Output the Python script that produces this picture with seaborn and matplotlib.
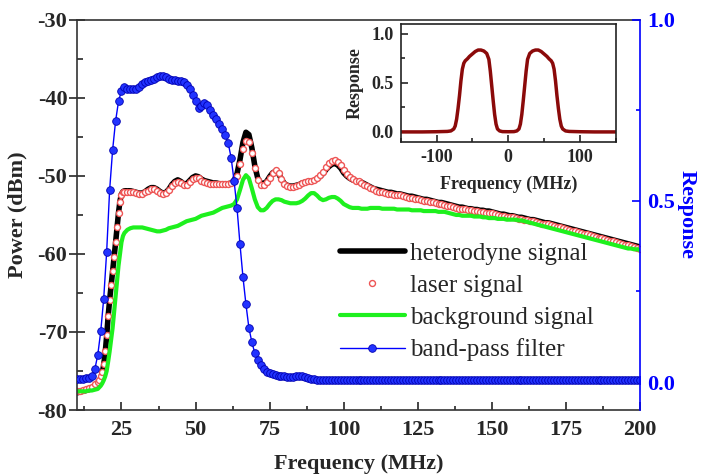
import numpy as np
import pandas as pd
import matplotlib
matplotlib.use('Agg')
import matplotlib.pyplot as plt
import seaborn as sns
from matplotlib.ticker import MultipleLocator

# frequency grid of the power traces (finer on the rising edge)
freq_power = np.concatenate([np.arange(10, 17), np.arange(17, 26.5, 0.5), np.arange(27, 201)])

heterodyne = [
    -77.8, -77.7, -77.6, -77.5, -77.4, -77.2, -76.9,
    -76.6, -76.3, -75.9, -75.3, -74.2, -72.7, -70.5, -68.0, -65.9, -64.1,
    -62.3, -60.5, -58.6, -56.6, -54.7, -53.2, -52.3, -52.0, -51.9,
    -51.9, -51.9, -52.0, -52.1, -52.2, -52.2, -52.0, -51.7, -51.5, -51.5,
    -51.7, -52.0, -52.2, -52.1, -51.7, -51.1, -50.7, -50.5, -50.7, -51.0,
    -51.0, -50.6, -50.2, -50.0, -50.1, -50.4, -50.6, -50.7, -50.8, -50.9,
    -50.9, -51.0, -51.0, -51.0, -51.0, -50.9, -50.6, -49.7, -47.9, -45.7,
    -44.4, -44.7, -46.4, -48.7, -50.3, -50.9, -51.0, -50.7, -50.1, -49.6,
    -49.4, -49.7, -50.4, -51.0, -51.2, -51.3, -51.3, -51.2, -51.1, -50.9,
    -50.8, -50.7, -50.7, -50.6, -50.4, -50.1, -49.7, -49.2, -48.8, -48.5,
    -48.4, -48.6, -49.0, -49.6, -50.0, -50.3, -50.5, -50.6, -50.7, -50.8,
    -51.0, -51.2, -51.4, -51.6, -51.7, -51.8, -51.9, -52.0, -52.1, -52.1,
    -52.2, -52.3, -52.3, -52.4, -52.5, -52.6, -52.6, -52.7, -52.8, -52.9,
    -53.0, -53.0, -53.1, -53.2, -53.3, -53.4, -53.4, -53.5, -53.6, -53.7,
    -53.8, -53.9, -54.0, -54.0, -54.1, -54.2, -54.2, -54.3, -54.3, -54.4,
    -54.4, -54.5, -54.5, -54.6, -54.7, -54.8, -54.9, -54.9, -55.0, -55.1,
    -55.1, -55.2, -55.3, -55.3, -55.4, -55.5, -55.6, -55.6, -55.7, -55.8,
    -55.9, -56.0, -56.0, -56.1, -56.2, -56.3, -56.4, -56.5, -56.6, -56.7,
    -56.8, -56.9, -57.0, -57.1, -57.2, -57.3, -57.4, -57.5, -57.6, -57.7,
    -57.8, -57.9, -58.0, -58.1, -58.2, -58.3, -58.4, -58.5, -58.6, -58.7,
    -58.8, -58.9, -59.0, -59.1,
]

laser = [
    -77.6, -77.5, -77.4, -77.3, -77.2, -77.0, -76.7,
    -76.4, -76.1, -75.7, -75.1, -74.1, -72.5, -70.4, -68.0, -65.9, -64.0,
    -62.2, -60.4, -58.5, -56.6, -54.8, -53.4, -52.5, -52.1, -52.0,
    -52.0, -52.0, -52.1, -52.2, -52.3, -52.3, -52.1, -51.9, -51.7, -51.7,
    -51.9, -52.2, -52.3, -52.2, -51.8, -51.3, -50.9, -50.8, -50.9, -51.2,
    -51.2, -50.8, -50.4, -50.2, -50.3, -50.6, -50.8, -50.9, -51.0, -51.0,
    -51.0, -51.0, -51.0, -51.0, -51.0, -50.9, -50.7, -50.0, -48.5, -46.6,
    -45.5, -45.6, -47.0, -49.0, -50.5, -51.1, -51.1, -50.8, -50.2, -49.6,
    -49.3, -49.6, -50.4, -51.0, -51.3, -51.4, -51.4, -51.3, -51.1, -50.9,
    -50.8, -50.7, -50.6, -50.5, -50.3, -49.9, -49.5, -48.9, -48.4, -48.1,
    -48.0, -48.2, -48.6, -49.2, -49.7, -50.1, -50.4, -50.6, -50.7, -50.9,
    -51.1, -51.3, -51.5, -51.7, -51.9, -52.0, -52.1, -52.2, -52.3, -52.3,
    -52.4, -52.5, -52.5, -52.6, -52.7, -52.8, -52.8, -52.9, -53.0, -53.1,
    -53.2, -53.2, -53.3, -53.4, -53.5, -53.6, -53.6, -53.7, -53.8, -53.9,
    -54.0, -54.1, -54.2, -54.2, -54.3, -54.4, -54.4, -54.5, -54.5, -54.6,
    -54.6, -54.7, -54.7, -54.8, -54.9, -55.0, -55.1, -55.1, -55.2, -55.3,
    -55.3, -55.4, -55.5, -55.5, -55.6, -55.7, -55.8, -55.8, -55.9, -56.0,
    -56.1, -56.2, -56.2, -56.3, -56.4, -56.5, -56.6, -56.7, -56.8, -56.9,
    -57.0, -57.1, -57.2, -57.3, -57.4, -57.5, -57.6, -57.7, -57.8, -57.9,
    -58.0, -58.1, -58.2, -58.3, -58.4, -58.5, -58.6, -58.7, -58.8, -58.9,
    -59.0, -59.1, -59.2, -59.3,
]

background = [
    -77.6, -77.6, -77.6, -77.6, -77.5, -77.5, -77.4,
    -77.3, -77.1, -76.9, -76.6, -76.2, -75.7, -75.0, -73.8, -72.5, -71.0,
    -69.5, -67.5, -65.5, -63.5, -61.5, -60.0, -58.5, -57.7, -57.3,
    -56.9, -56.7, -56.6, -56.6, -56.6, -56.6, -56.7, -56.8, -56.9, -57.0,
    -57.1, -57.1, -57.0, -56.9, -56.7, -56.6, -56.5, -56.4, -56.2, -56.0,
    -55.8, -55.7, -55.6, -55.5, -55.3, -55.1, -55.0, -54.9, -54.8, -54.7,
    -54.5, -54.3, -54.1, -54.0, -53.9, -53.8, -53.6, -53.0, -51.8, -50.5,
    -49.9, -50.3, -51.6, -53.0, -54.0, -54.4, -54.4, -54.1, -53.6, -53.2,
    -53.0, -53.0, -53.1, -53.3, -53.4, -53.5, -53.5, -53.5, -53.4, -53.2,
    -52.9, -52.5, -52.2, -52.2, -52.5, -52.9, -53.1, -53.0, -52.8, -52.7,
    -52.7, -52.9, -53.2, -53.6, -53.8, -54.0, -54.1, -54.1, -54.1, -54.2,
    -54.2, -54.2, -54.1, -54.1, -54.1, -54.1, -54.2, -54.2, -54.2, -54.2,
    -54.2, -54.3, -54.3, -54.3, -54.3, -54.3, -54.4, -54.4, -54.4, -54.4,
    -54.5, -54.5, -54.5, -54.5, -54.5, -54.6, -54.6, -54.6, -54.7, -54.8,
    -54.9, -55.0, -55.0, -55.1, -55.1, -55.1, -55.1, -55.2, -55.2, -55.2,
    -55.3, -55.3, -55.4, -55.4, -55.4, -55.5, -55.5, -55.5, -55.6, -55.6,
    -55.6, -55.6, -55.7, -55.7, -55.8, -55.9, -56.0, -56.1, -56.2, -56.3,
    -56.4, -56.5, -56.6, -56.7, -56.8, -56.9, -57.0, -57.1, -57.2, -57.3,
    -57.4, -57.5, -57.6, -57.7, -57.8, -57.9, -58.0, -58.1, -58.2, -58.3,
    -58.4, -58.5, -58.6, -58.7, -58.8, -58.9, -59.0, -59.1, -59.2, -59.3,
    -59.3, -59.4, -59.4, -59.5,
]

# band-pass filter response, 1 MHz steps from 10 to 200 MHz
freq_filter = np.arange(10, 201)
filter_response = [
    0.008, 0.008, 0.009, 0.010, 0.011, 0.017, 0.035, 0.075, 0.140, 0.230,
    0.360, 0.530, 0.640, 0.720, 0.775, 0.805, 0.815, 0.810, 0.808, 0.808,
    0.810, 0.815, 0.822, 0.828, 0.832, 0.835, 0.838, 0.842, 0.845, 0.846,
    0.843, 0.838, 0.835, 0.833, 0.832, 0.831, 0.829, 0.820, 0.808, 0.793,
    0.776, 0.758, 0.762, 0.770, 0.765, 0.752, 0.738, 0.725, 0.712, 0.700,
    0.683, 0.660, 0.620, 0.555, 0.480, 0.380, 0.290, 0.215, 0.150, 0.110,
    0.080, 0.060, 0.046, 0.036, 0.029, 0.024, 0.021, 0.019, 0.017, 0.016,
    0.016, 0.015, 0.015, 0.015, 0.016, 0.016, 0.016, 0.015, 0.012, 0.009,
    0.007, 0.006, 0.005, 0.005, 0.005, 0.005, 0.005, 0.005, 0.005, 0.005,
    0.005, 0.005, 0.005, 0.005, 0.005, 0.005, 0.005, 0.005, 0.005, 0.005,
    0.005, 0.005, 0.005, 0.005, 0.005, 0.005, 0.005, 0.005, 0.005, 0.005,
    0.005, 0.005, 0.005, 0.005, 0.005, 0.005, 0.005, 0.005, 0.005, 0.005,
    0.005, 0.005, 0.005, 0.005, 0.005, 0.005, 0.005, 0.005, 0.005, 0.005,
    0.005, 0.005, 0.005, 0.005, 0.005, 0.005, 0.005, 0.005, 0.005, 0.005,
    0.005, 0.005, 0.005, 0.005, 0.005, 0.005, 0.005, 0.005, 0.005, 0.005,
    0.005, 0.005, 0.005, 0.005, 0.005, 0.005, 0.005, 0.005, 0.005, 0.005,
    0.005, 0.005, 0.005, 0.005, 0.005, 0.005, 0.005, 0.005, 0.005, 0.005,
    0.005, 0.005, 0.005, 0.005, 0.005, 0.005, 0.005, 0.005, 0.005, 0.005,
    0.005, 0.005, 0.005, 0.005, 0.005, 0.005, 0.005, 0.005, 0.005, 0.005,
    0.005,
]

# inset: two-sided filter response
inset_freq = [-150, -120, -100, -85, -80, -76, -74, -72, -70, -68, -66, -64, -62, -60,
              -57, -54, -50, -46, -42, -38, -34, -30, -27, -25, -23, -21, -19, -17,
              -15, -12, -8, 0, 8, 12, 15, 17, 19, 21, 23, 25, 27, 30, 34, 38, 42,
              46, 50, 54, 57, 60, 62, 64, 66, 68, 70, 72, 74, 76, 80, 85, 100, 120, 150]
inset_response = [0.0, 0.0, 0.002, 0.005, 0.01, 0.03, 0.06, 0.13, 0.24, 0.37, 0.52, 0.64, 0.70, 0.725,
                  0.745, 0.77, 0.795, 0.82, 0.835, 0.835, 0.825, 0.80, 0.74, 0.62, 0.47, 0.32, 0.18, 0.08,
                  0.03, 0.01, 0.003, 0.002, 0.003, 0.01, 0.03, 0.08, 0.18, 0.32, 0.47, 0.62, 0.74, 0.80,
                  0.825, 0.835, 0.835, 0.82, 0.795, 0.77, 0.745, 0.725, 0.70, 0.64, 0.52, 0.37, 0.24,
                  0.13, 0.06, 0.03, 0.01, 0.005, 0.002, 0.0, 0.0]

power = pd.DataFrame({'freq': freq_power, 'het': heterodyne, 'laser': laser, 'bg': background})
filt = pd.DataFrame({'freq': freq_filter, 'resp': filter_response})
inset = pd.DataFrame({'freq': inset_freq, 'resp': inset_response})

sns.set_style('ticks')
plt.rcParams['font.family'] = ['Liberation Serif', 'DejaVu Serif']
plt.rcParams['font.weight'] = 'bold'
plt.rcParams['axes.labelweight'] = 'bold'
plt.rcParams['axes.unicode_minus'] = False

fig = plt.figure(figsize=(7.1, 4.74), dpi=100)
ax = fig.add_axes([0.1085, 0.135, 0.7929, 0.823])

sns.lineplot(data=power, x='freq', y='het', ax=ax, color='black', lw=4, label='heterodyne signal', legend=False)
sns.lineplot(data=power, x='freq', y='laser', ax=ax, color='#ee5555', ls='none', marker='o', markersize=4.3,
             markerfacecolor='white', markeredgecolor='#ee5555', markeredgewidth=1.0,
             label='laser signal', legend=False)
sns.lineplot(data=power, x='freq', y='bg', ax=ax, color='#1ef01e', lw=3, label='background signal', legend=False)

ax.set_xlim(10, 200)
ax.set_ylim(-80, -30)
ax.xaxis.set_major_locator(MultipleLocator(25))
ax.xaxis.set_minor_locator(MultipleLocator(12.5))
ax.yaxis.set_major_locator(MultipleLocator(10))
ax.yaxis.set_minor_locator(MultipleLocator(5))
ax.tick_params(axis='x', which='major', direction='in', length=6, width=1.2, labelsize=16, pad=7)
ax.tick_params(axis='x', which='minor', direction='in', length=3, width=1.2)
ax.tick_params(axis='y', which='major', direction='inout', length=12, width=1.2, labelsize=16, pad=1)
ax.tick_params(axis='y', which='minor', direction='in', length=4, width=1.2)
ax.set_xlabel('Frequency (MHz)', fontsize=16, labelpad=10)
ax.set_ylabel('Power (dBm)', fontsize=16, labelpad=7)
for s in ['left', 'bottom', 'top']:
    ax.spines[s].set_linewidth(1.2)
    ax.spines[s].set_color('#333333')
ax.spines['right'].set_visible(False)

ax2 = ax.twinx()
sns.lineplot(data=filt, x='freq', y='resp', ax=ax2, color='blue', lw=1, marker='o', markersize=5.5,
             markerfacecolor='#2233ff', markeredgecolor='#0000b0', markeredgewidth=0.6,
             label='band-pass filter', legend=False)
ax2.set_ylim(-0.0773, 1.0)
ax2.yaxis.set_major_locator(MultipleLocator(0.5))
ax2.yaxis.set_minor_locator(MultipleLocator(0.25))
ax2.yaxis.set_major_formatter(matplotlib.ticker.FormatStrFormatter('%.1f'))
ax2.tick_params(axis='y', which='major', direction='in', length=6, width=1.2, colors='blue', labelsize=16, pad=5)
ax2.tick_params(axis='y', which='minor', direction='in', length=3, width=1.2, colors='blue')
ax2.set_ylabel('Response', fontsize=16, color='blue', rotation=270, labelpad=16)
for s in ['left', 'bottom', 'top']:
    ax2.spines[s].set_visible(False)
ax2.spines['right'].set_color('blue')
ax2.spines['right'].set_linewidth(1.2)

handles = ax.get_lines() + ax2.get_lines()
labels = [h.get_label() for h in handles]
ax2.legend(handles, labels, loc='upper left', bbox_to_anchor=(0.467, 0.43), frameon=False,
           prop={'family': ['Liberation Serif'], 'weight': 'normal', 'size': 18},
           handlelength=2.6, handletextpad=0.2, labelspacing=0.38, borderpad=0, borderaxespad=0,
           numpoints=1)

# inset
axi = fig.add_axes([0.5644, 0.701, 0.3028, 0.2483])
sns.lineplot(data=inset, x='freq', y='resp', ax=axi, color='#8b0a0a', lw=2.5)
axi.set_xlim(-150, 150)
axi.set_ylim(-0.1, 1.1)
axi.xaxis.set_major_locator(MultipleLocator(100))
axi.xaxis.set_minor_locator(MultipleLocator(50))
axi.yaxis.set_major_locator(MultipleLocator(0.5))
axi.yaxis.set_minor_locator(MultipleLocator(0.25))
axi.yaxis.set_major_formatter(matplotlib.ticker.FormatStrFormatter('%.1f'))
axi.tick_params(which='major', direction='in', length=5, width=1.2, labelsize=13, pad=5)
axi.tick_params(which='minor', direction='in', length=3, width=1.2)
axi.set_xlabel('Frequency (MHz)', fontsize=13, labelpad=7)
axi.set_ylabel('Response', fontsize=13, labelpad=6)
for s in axi.spines.values():
    s.set_linewidth(1.2)
    s.set_color('#222222')

fig.savefig('out.png', dpi=100)
